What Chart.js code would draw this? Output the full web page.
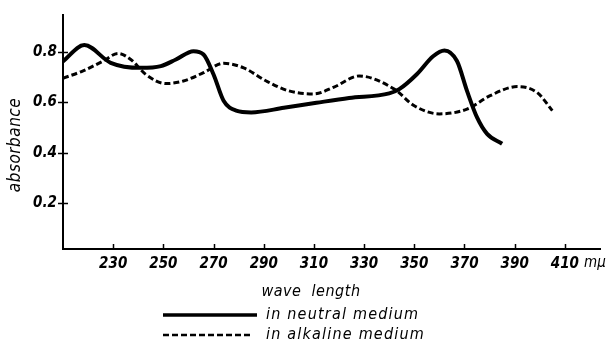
<!DOCTYPE html>
<html lang="en">
<head>
    <meta charset="UTF-8">
    <title>Absorbance spectrum</title>
    <style>
        * { margin: 0; padding: 0; box-sizing: border-box; }
        body { background: #fff; }
        .wrap { width: 609px; height: 354px; position: relative; }
    </style>
</head>
<body>
    <div class="wrap">
        <canvas id="spectrum"></canvas>
    </div>

    <script src="https://cdn.jsdelivr.net/npm/chart.js"></script>
    <script>
        // wave length (mμ) / absorbance
        const neutralWl  = [210, 218.5, 229, 241, 249, 255, 262, 266, 270, 274, 279, 285, 298, 311, 324, 340, 344, 351, 357.5, 362, 367, 371, 375, 379, 385];
        const neutralAbs = [0.762, 0.826, 0.756, 0.736, 0.743, 0.769, 0.802, 0.789, 0.71, 0.606, 0.567, 0.56, 0.578, 0.598, 0.617, 0.635, 0.652, 0.711, 0.782, 0.805, 0.763, 0.645, 0.54, 0.475, 0.436];

        const alkalineWl  = [210, 218, 226, 232, 237, 243, 251, 258, 266, 274, 282, 291, 300, 310, 318, 328, 342, 350, 360, 371, 380, 391, 399, 405];
        const alkalineAbs = [0.695, 0.724, 0.763, 0.793, 0.769, 0.71, 0.674, 0.684, 0.717, 0.754, 0.736, 0.684, 0.645, 0.633, 0.66, 0.704, 0.652, 0.586, 0.554, 0.573, 0.625, 0.662, 0.638, 0.567];

        const xTicks = [230, 250, 270, 290, 310, 330, 350, 370, 390, 410];
        const yTicks = [0.2, 0.4, 0.6, 0.8];

        const seriesNames = ['in neutral medium', 'in alkaline medium'];

        const FONT = '"DejaVu Sans Condensed", "Liberation Sans Narrow", sans-serif';

        function toPoints(xs, ys) {
            return xs.map((x, i) => ({ x: x, y: ys[i] }));
        }

        // inward tick marks, axis captions and the hand-drawn style legend
        const decorations = {
            id: 'decorations',
            afterDraw(chart) {
                const ctx = chart.ctx;
                const xs = chart.scales.x;
                const ys = chart.scales.y;
                const area = chart.chartArea;

                ctx.save();
                ctx.strokeStyle = '#000';
                ctx.lineWidth = 1.5;
                ctx.beginPath();
                yTicks.forEach(v => {
                    const py = Math.round(ys.getPixelForValue(v)) + 0.5;
                    ctx.moveTo(area.left - 5, py);
                    ctx.lineTo(area.left + 5, py);
                });
                xTicks.forEach(v => {
                    const px = Math.round(xs.getPixelForValue(v)) + 0.5;
                    ctx.moveTo(px, area.bottom);
                    ctx.lineTo(px, area.bottom - 5);
                });
                ctx.stroke();

                ctx.fillStyle = '#000';
                ctx.textBaseline = 'middle';

                // unit after the last tick
                ctx.font = 'italic 15px ' + FONT;
                ctx.textAlign = 'left';
                ctx.fillText('mμ', 584, 263);

                // y caption
                ctx.save();
                ctx.translate(16, 145);
                ctx.rotate(-Math.PI / 2);
                ctx.textAlign = 'center';
                ctx.font = 'italic 17px ' + FONT;
                ctx.letterSpacing = '0.5px';
                ctx.fillText('absorbance', 0, 0);
                ctx.restore();

                // x caption
                ctx.textAlign = 'center';
                ctx.font = 'italic 16px ' + FONT;
                ctx.letterSpacing = '0.5px';
                ctx.fillText('wave  length', 311, 292);

                // legend
                const rows = [
                    { y: 315, dash: [], width: 3.5, end: 257 },
                    { y: 335, dash: [6, 3], width: 2.5, end: 253 }
                ];
                ctx.font = 'italic 16px ' + FONT;
                ctx.letterSpacing = '1.2px';
                rows.forEach((r, i) => {
                    ctx.beginPath();
                    ctx.setLineDash(r.dash);
                    ctx.lineWidth = r.width;
                    ctx.moveTo(163, r.y);
                    ctx.lineTo(r.end, r.y);
                    ctx.stroke();
                    ctx.setLineDash([]);
                    ctx.textAlign = 'left';
                    ctx.fillText(seriesNames[i], 266, r.y);
                });
                ctx.restore();
            }
        };

        new Chart(document.getElementById('spectrum'), {
            type: 'line',
            data: {
                datasets: [
                    {
                        label: seriesNames[0],
                        data: toPoints(neutralWl, neutralAbs),
                        borderColor: '#000',
                        borderWidth: 4,
                        pointRadius: 0,
                        cubicInterpolationMode: 'monotone',
                        fill: false
                    },
                    {
                        label: seriesNames[1],
                        data: toPoints(alkalineWl, alkalineAbs),
                        borderColor: '#000',
                        borderWidth: 3,
                        borderDash: [6, 3],
                        pointRadius: 0,
                        cubicInterpolationMode: 'monotone',
                        fill: false
                    }
                ]
            },
            options: {
                responsive: true,
                maintainAspectRatio: false,
                animation: false,
                layout: { padding: { top: 13, right: 9, bottom: 0, left: 0 } },
                plugins: {
                    legend: { display: false },
                    tooltip: { enabled: false }
                },
                scales: {
                    x: {
                        type: 'linear',
                        min: 210,
                        max: 424,
                        afterBuildTicks: s => { s.ticks = xTicks.map(v => ({ value: v })); },
                        afterFit: s => { s.height = 105; },
                        grid: { drawOnChartArea: false, drawTicks: false },
                        border: { color: '#000', width: 2 },
                        ticks: {
                            color: '#000',
                            padding: 6,
                            maxRotation: 0,
                            font: { family: FONT, size: 15, style: 'italic', weight: 'bold' },
                            callback: v => String(v)
                        }
                    },
                    y: {
                        min: 0.02,
                        max: 0.945,
                        afterBuildTicks: s => { s.ticks = yTicks.map(v => ({ value: v })); },
                        afterFit: s => { s.width = 63; },
                        grid: { drawOnChartArea: false, drawTicks: false },
                        border: { color: '#000', width: 2 },
                        ticks: {
                            color: '#000',
                            padding: 6,
                            font: { family: FONT, size: 15, style: 'italic', weight: 'bold' },
                            callback: v => v.toFixed(1)
                        }
                    }
                }
            },
            plugins: [decorations]
        });
    </script>
</body>
</html>
